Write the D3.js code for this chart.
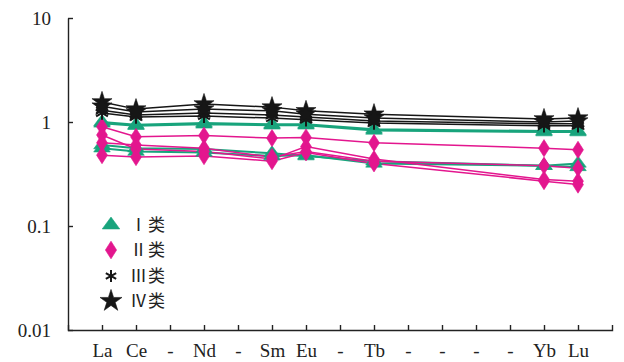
<!DOCTYPE html>
<html>
<head>
<meta charset="utf-8">
<script src="https://cdn.jsdelivr.net/npm/d3@7"></script>
<style>
    body { margin: 0; background: #fff; }
</style>
</head>
<body>
<script>
// categories (Pm and the others left blank as "-")
const elements = ["La", "Ce", "Pr", "Nd", "Pm", "Sm", "Eu", "Gd", "Tb", "Dy", "Ho", "Er", "Tm", "Yb", "Lu"];
const tickLabels = ["La", "Ce", "-", "Nd", "-", "Sm", "Eu", "-", "Tb", "-", "-", "-", "-", "Yb", "Lu"];
const measured = ["La", "Ce", "Nd", "Sm", "Eu", "Tb", "Yb", "Lu"];
const yTicks = [0.01, 0.1, 1, 10];

// series values, one row per sample, in the order of `measured`
const groupI = [
    [1.00, 0.94, 0.98, 0.95, 0.95, 0.85, 0.82, 0.82],
    [0.97, 0.92, 0.95, 0.93, 0.93, 0.83, 0.80, 0.80],
    [0.60, 0.56, 0.55, 0.50, 0.47, 0.42, 0.38, 0.40],
    [0.56, 0.52, 0.51, 0.47, 0.48, 0.40, 0.38, 0.37]
];
const groupII = [
    [0.90, 0.72, 0.74, 0.70, 0.71, 0.63, 0.56, 0.54],
    [0.75, 0.55, 0.52, 0.44, 0.58, 0.44, 0.28, 0.27],
    [0.63, 0.60, 0.56, 0.46, 0.52, 0.42, 0.38, 0.36],
    [0.48, 0.46, 0.47, 0.42, 0.51, 0.40, 0.27, 0.25]
];
const groupIII = [
    [1.30, 1.17, 1.22, 1.17, 1.12, 1.02, 0.96, 0.96],
    [1.22, 1.12, 1.14, 1.09, 1.05, 0.98, 0.92, 0.92]
];
const groupIV = [
    [1.56, 1.33, 1.49, 1.39, 1.28, 1.19, 1.07, 1.09],
    [1.42, 1.25, 1.33, 1.28, 1.19, 1.09, 1.00, 1.02]
];
const legendNumerals = ["Ⅰ", "Ⅱ", "Ⅲ", "Ⅳ"];
const legendSuffix = "类";

function init() {
    const w = 624;
    const h = 362;
    const left = 68, right = 612, top = 18, bottom = 330;
    const serif = "Liberation Serif";
    const cjk = "Noto Sans CJK SC";

    const svg = d3.select("body").append("svg")
        .attr("width", w)
        .attr("height", h);

    const x = d3.scalePoint().domain(elements).range([left, right]).padding(1);
    const y = d3.scaleLog().domain([0.01, 10]).range([bottom, top]);

    const green = "#18a47c", pink = "#e3168e", black = "#161616";

    const groups = [
        { rows: groupI, color: green, sym: d3.symbolTriangle, size: 90, width: 2, sx: 1.15, sy: 0.9 },
        { rows: groupII, color: pink, sym: d3.symbolDiamond, size: 85, width: 1.5, sx: 1.1, sy: 1 },
        { rows: groupIII, color: black, sym: d3.symbolAsterisk || d3.symbolCross, size: 130, width: 1.5, sx: 1, sy: 1, stroke: true },
        { rows: groupIV, color: black, sym: d3.symbolStar, size: 125, width: 1.5, sx: 1, sy: 1 }
    ];

    const line = d3.line()
        .x((d, i) => x(measured[i]))
        .y(d => y(d));

    // lines
    groups.forEach(g => {
        svg.append("g").selectAll("path")
            .data(g.rows)
            .enter()
            .append("path")
                .attr("d", line)
                .attr("fill", "none")
                .attr("stroke", g.color)
                .attr("stroke-width", g.width);
    });

    // markers
    groups.forEach(g => {
        const pts = [];
        g.rows.forEach(r => r.forEach((v, i) => pts.push([measured[i], v])));
        svg.append("g").selectAll("path")
            .data(pts)
            .enter()
            .append("path")
                .attr("transform", d => "translate(" + x(d[0]) + "," + y(d[1]) + ") scale(" + g.sx + "," + g.sy + ")")
                .attr("d", d3.symbol(g.sym, g.size))
                .attr("fill", g.stroke ? "none" : g.color)
                .attr("stroke", g.color)
                .attr("stroke-width", g.stroke ? 2 : 0.6);
    });

    // axes
    const xAxis = d3.axisBottom(x)
        .tickSizeInner(-5)
        .tickSizeOuter(-5)
        .tickPadding(14)
        .tickFormat((d, i) => tickLabels[i]);
    const yAxis = d3.axisLeft(y)
        .tickValues(yTicks)
        .tickSizeInner(-5)
        .tickSizeOuter(0)
        .tickPadding(17)
        .tickFormat(d3.format("~g"));

    const gx = svg.append("g")
        .attr("transform", "translate(0," + bottom + ")")
        .call(xAxis);
    const gy = svg.append("g")
        .attr("transform", "translate(" + left + ",0)")
        .call(yAxis);

    [gx, gy].forEach(a => {
        a.attr("font-family", serif).attr("font-size", 19);
        a.selectAll("path, line").attr("stroke", "#222").attr("stroke-width", 1.4);
        a.selectAll("text").attr("fill", "#222");
    });

    // legend
    const legend = svg.append("g");
    const legY = [225, 250, 276, 301];
    groups.forEach((g, i) => {
        const lsize = [100, 90, 100, 150][i];
        legend.append("path")
            .attr("transform", "translate(111," + legY[i] + ") scale(" + g.sx + "," + g.sy + ")")
            .attr("d", d3.symbol(g.sym, lsize))
            .attr("fill", g.stroke ? "none" : g.color)
            .attr("stroke", g.color)
            .attr("stroke-width", g.stroke ? 2 : 0.6);
        legend.append("text")
            .attr("x", 147)
            .attr("y", legY[i] + 6)
            .attr("text-anchor", "end")
            .attr("fill", "#222")
            .attr("font-size", 17)
            .attr("font-family", cjk)
            .text(legendNumerals[i]);
        legend.append("text")
            .attr("x", 148)
            .attr("y", legY[i] + 6)
            .attr("fill", "#222")
            .attr("font-size", 17)
            .attr("font-family", cjk)
            .text(legendSuffix);
    });
}

window.onload = init;
</script>
</body>
</html>
